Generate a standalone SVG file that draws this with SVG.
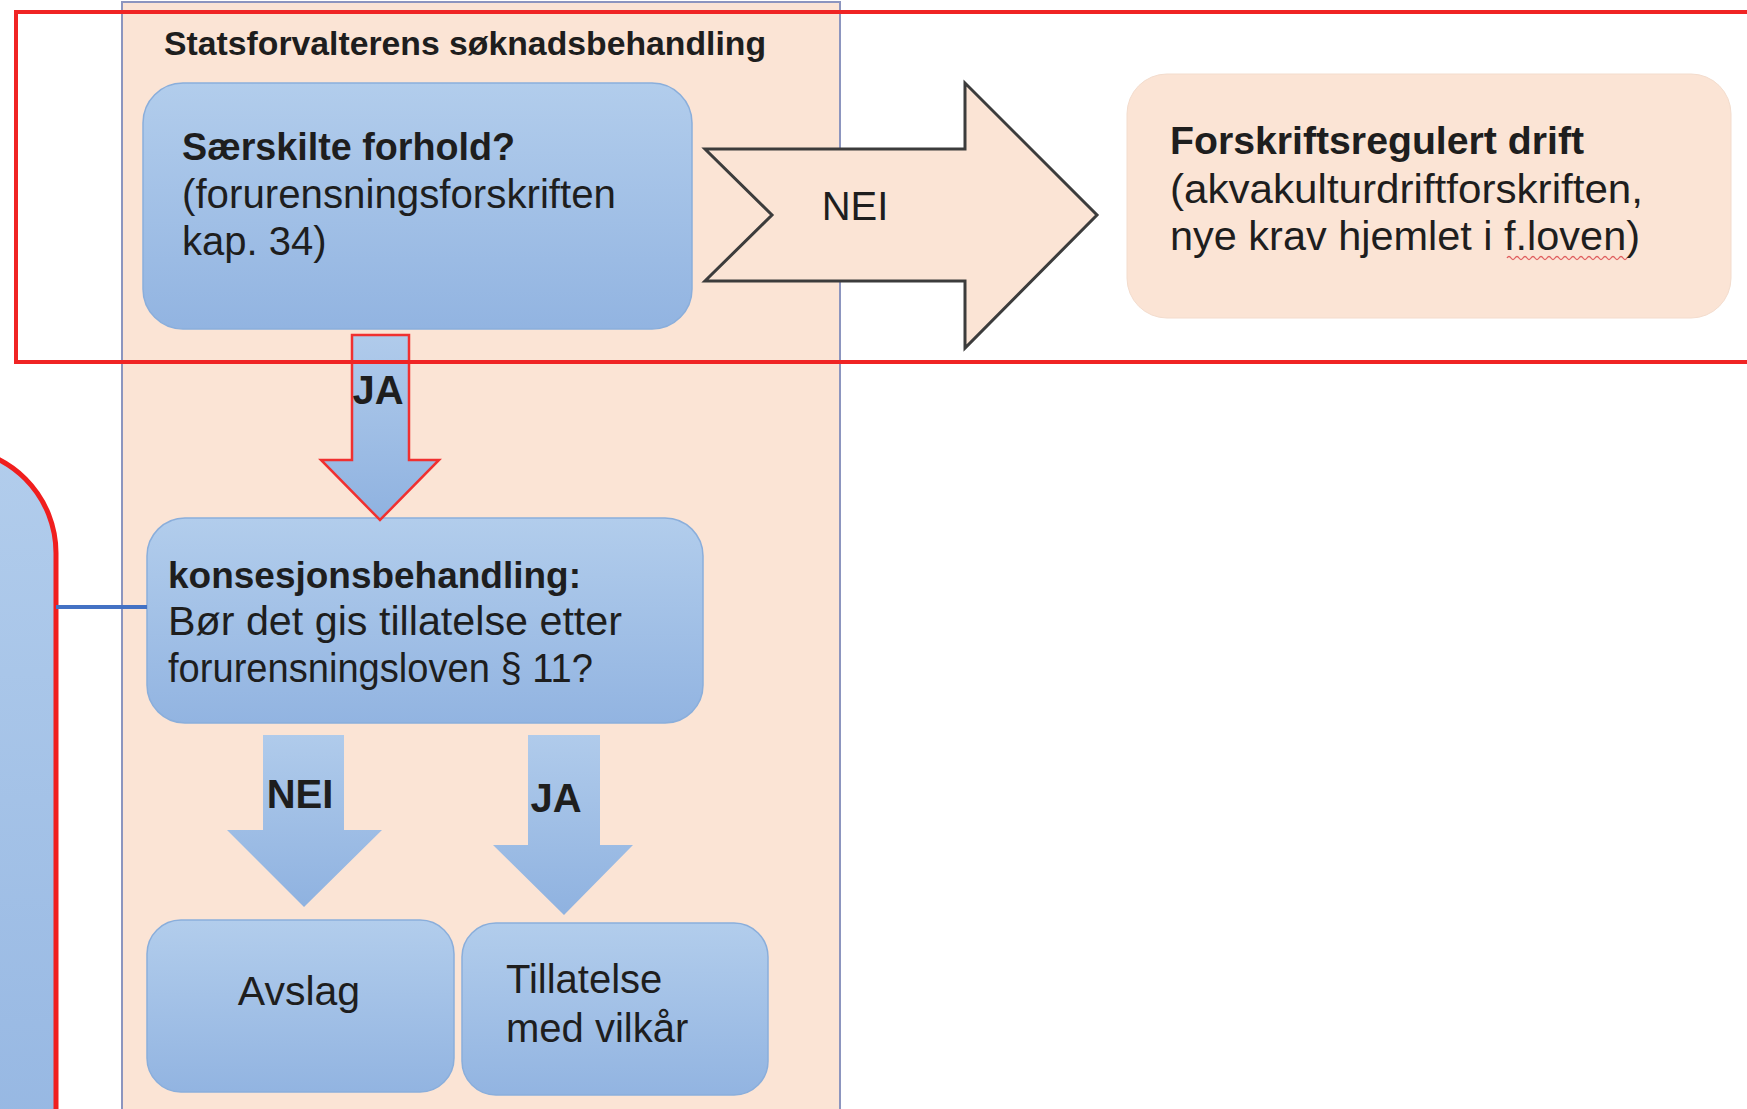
<svg xmlns="http://www.w3.org/2000/svg" width="1747" height="1109" viewBox="0 0 1747 1109">
<style>
  text { font-family: "Liberation Sans", Arial, sans-serif; fill: #1e1e1e; }
  .b { font-weight: bold; }
  .lbl { font-weight: bold; font-size: 40px; }
  .blue { fill: url(#gBlue); stroke: #8aaedb; stroke-width: 1.5; }
  .peachBox { fill: #fbe4d5; stroke: #f3dccd; stroke-width: 1; }
</style>
<defs>
  <linearGradient id="gBlue" x1="0" y1="0" x2="0" y2="1">
    <stop offset="0" stop-color="#b2cdec"/>
    <stop offset="1" stop-color="#92b4e1"/>
  </linearGradient>
  <linearGradient id="gArrow" x1="0" y1="0" x2="0" y2="1">
    <stop offset="0" stop-color="#b0cbeb"/>
    <stop offset="1" stop-color="#8fb2e0"/>
  </linearGradient>
</defs>
<rect width="1747" height="1109" fill="#ffffff"/>

<g id="container-statsforvalter">
  <rect x="122" y="2" width="718" height="1120" fill="#fbe4d5" stroke="#8c95bf" stroke-width="2"/>
  <text class="b" x="164" y="55" font-size="33" textLength="602" lengthAdjust="spacingAndGlyphs">Statsforvalterens søknadsbehandling</text>
</g>

<g id="node-left">
  <rect x="-300" y="448" width="356" height="800" rx="105" ry="105" fill="url(#gBlue)" stroke="#f01e1e" stroke-width="5"/>
</g>

<g id="node-saerskilte">
  <rect class="blue" x="143" y="83" width="549" height="246" rx="40" ry="40"/>
  <text class="b" x="182" y="160" font-size="38" textLength="333" lengthAdjust="spacingAndGlyphs">Særskilte forhold?</text>
  <text x="182" y="208" font-size="40" textLength="434" lengthAdjust="spacingAndGlyphs">(forurensningsforskriften</text>
  <text x="182" y="255" font-size="40">kap. 34)</text>
</g>

<g id="node-forskriftsregulert">
  <rect class="peachBox" x="1127" y="74" width="604" height="244" rx="40" ry="40"/>
  <text class="b" x="1170" y="154" font-size="39" textLength="414" lengthAdjust="spacingAndGlyphs">Forskriftsregulert drift</text>
  <text x="1170" y="203" font-size="41" textLength="473" lengthAdjust="spacingAndGlyphs">(akvakulturdriftforskriften,</text>
  <text x="1170" y="250" font-size="41" textLength="470" lengthAdjust="spacingAndGlyphs">nye krav hjemlet i f.loven)</text>
  <path d="M1507 258 q2 -3 4 0 t4 0 t4 0 t4 0 t4 0 t4 0 t4 0 t4 0 t4 0 t4 0 t4 0 t4 0 t4 0 t4 0 t4 0 t4 0 t4 0 t4 0 t4 0 t4 0 t4 0 t4 0 t4 0 t4 0 t4 0 t4 0 t4 0 t4 0 t4 0 t4 0" fill="none" stroke="#e06060" stroke-width="1.3"/>
</g>

<g id="node-konsesjon">
  <rect class="blue" x="147" y="518" width="556" height="205" rx="38" ry="38"/>
  <text class="b" x="168" y="588" font-size="37" textLength="413" lengthAdjust="spacingAndGlyphs">konsesjonsbehandling:</text>
  <text x="168" y="635" font-size="40" textLength="454" lengthAdjust="spacingAndGlyphs">Bør det gis tillatelse etter</text>
  <text x="168" y="682" font-size="40" textLength="425" lengthAdjust="spacingAndGlyphs">forurensningsloven § 11?</text>
</g>

<g id="node-avslag">
  <rect class="blue" x="147" y="920" width="307" height="172" rx="34" ry="34"/>
  <text x="299" y="1005" font-size="41" text-anchor="middle">Avslag</text>
</g>

<g id="node-tillatelse">
  <rect class="blue" x="462" y="923" width="306" height="172" rx="34" ry="34"/>
  <text x="506" y="993" font-size="40">Tillatelse</text>
  <text x="506" y="1042" font-size="40">med vilkår</text>
</g>

<g id="connectors">
  <line x1="56" y1="607" x2="147" y2="607" stroke="#4472c4" stroke-width="4"/>
  <polygon points="705,149 965,149 965,83 1097,215 965,348 965,281 705,281 772,215" fill="#fbe4d5" stroke="#3c3c3c" stroke-width="3" stroke-linejoin="miter"/>
  <text class="lbl" x="855" y="220" text-anchor="middle" style="font-weight:normal" font-size="41">NEI</text>
  <polygon points="352,335 409,335 409,460 439,460 380,520 321,460 352,460" fill="url(#gArrow)" stroke="#f03030" stroke-width="2.5"/>
  <text class="lbl" x="378" y="404" text-anchor="middle">JA</text>
  <polygon points="263,735 344,735 344,830 382,830 304,907 227,830 263,830" fill="url(#gArrow)"/>
  <text class="lbl" x="300" y="808" text-anchor="middle">NEI</text>
  <polygon points="528,735 600,735 600,845 633,845 564,915 493,845 528,845" fill="url(#gArrow)"/>
  <text class="lbl" x="556" y="812" text-anchor="middle">JA</text>
</g>

<g id="highlight">
  <rect x="16" y="12" width="1760" height="350" fill="none" stroke="#f02424" stroke-width="4"/>
</g>
</svg>
